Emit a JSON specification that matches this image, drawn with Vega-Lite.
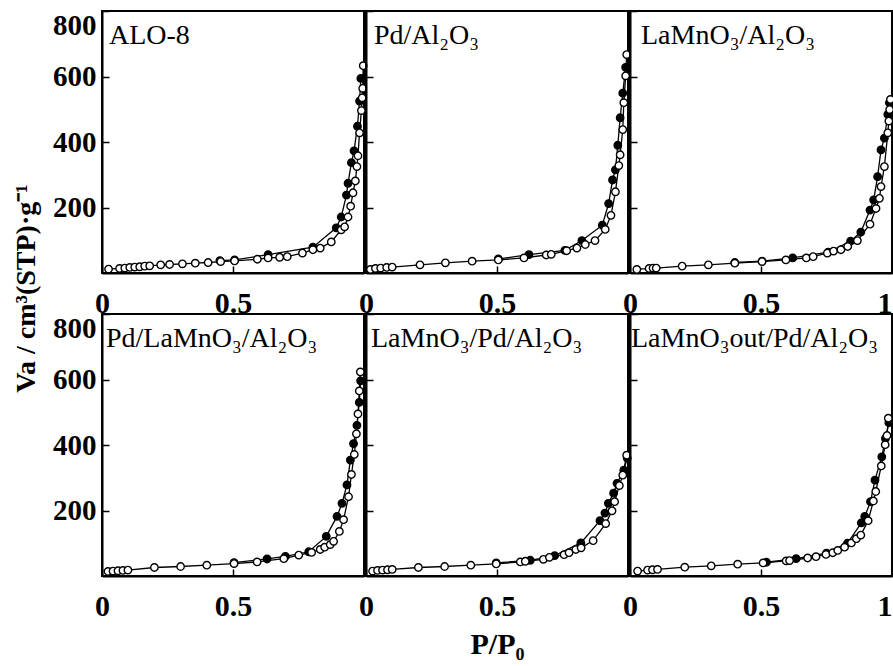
{
  "$schema": "https://vega.github.io/schema/vega-lite/v6.json",
  "background": "white",
  "padding": {"left": 11, "top": 9, "right": 1, "bottom": 0},
  "bounds": "flush",
  "columns": 3,
  "spacing": {"row": 41, "column": 2},
  "config": {
    "font": "Liberation Serif",
    "view": {"stroke": "black", "strokeWidth": 2},
    "axis": {"grid": false, "domainColor": "black", "domainWidth": 2, "tickColor": "black", "tickWidth": 1.5, "tickSize": -7, "labelFont": "Liberation Serif", "labelFontWeight": "bold", "labelColor": "black", "titleFont": "Liberation Serif", "titleFontWeight": "bold", "titleColor": "black", "labelOverlap": false},
    "axisX": {"labelFontSize": 30, "labelPadding": 22, "format": "~g"},
    "axisY": {"labelFontSize": 29, "labelPadding": 13, "format": "d"},
    "title": {"anchor": "start", "frame": "group", "offset": -40, "fontSize": 28, "fontWeight": "normal", "font": "Liberation Serif", "color": "black"}
  },
  "datasets": {
    "iso": [
      {"s":1,"b":"a","p":0.025,"v":12},{"s":1,"b":"a","p":0.067,"v":14},{"s":1,"b":"a","p":0.087,"v":15},{"s":1,"b":"a","p":0.106,"v":17},{"s":1,"b":"a","p":0.125,"v":18},{"s":1,"b":"a","p":0.144,"v":19},{"s":1,"b":"a","p":0.163,"v":21},{"s":1,"b":"a","p":0.182,"v":22},{"s":1,"b":"a","p":0.224,"v":25},{"s":1,"b":"a","p":0.258,"v":26},{"s":1,"b":"a","p":0.307,"v":28},{"s":1,"b":"a","p":0.356,"v":30},{"s":1,"b":"a","p":0.405,"v":32},{"s":1,"b":"a","p":0.453,"v":35},{"s":1,"b":"a","p":0.506,"v":37},{"s":1,"b":"a","p":0.593,"v":42},{"s":1,"b":"a","p":0.634,"v":46},{"s":1,"b":"a","p":0.678,"v":48},{"s":1,"b":"a","p":0.707,"v":50},{"s":1,"b":"a","p":0.765,"v":61},{"s":1,"b":"a","p":0.805,"v":71},{"s":1,"b":"a","p":0.833,"v":76},{"s":1,"b":"a","p":0.875,"v":95},{"s":1,"b":"a","p":0.913,"v":132},{"s":1,"b":"a","p":0.926,"v":141},{"s":1,"b":"a","p":0.939,"v":171},{"s":1,"b":"a","p":0.949,"v":204},{"s":1,"b":"a","p":0.958,"v":245},{"s":1,"b":"a","p":0.967,"v":281},{"s":1,"b":"a","p":0.973,"v":325},{"s":1,"b":"a","p":0.977,"v":358},{"s":1,"b":"a","p":0.983,"v":428},{"s":1,"b":"a","p":0.99,"v":496},{"s":1,"b":"a","p":0.993,"v":535},{"s":1,"b":"a","p":0.995,"v":564},{"s":1,"b":"a","p":0.997,"v":633},
      {"s":1,"b":"d","p":0.45,"v":38},{"s":1,"b":"d","p":0.506,"v":40},{"s":1,"b":"d","p":0.634,"v":56},{"s":1,"b":"d","p":0.805,"v":79},{"s":1,"b":"d","p":0.894,"v":138},{"s":1,"b":"d","p":0.913,"v":171},{"s":1,"b":"d","p":0.933,"v":238},{"s":1,"b":"d","p":0.939,"v":274},{"s":1,"b":"d","p":0.952,"v":337},{"s":1,"b":"d","p":0.962,"v":373},{"s":1,"b":"d","p":0.975,"v":448},{"s":1,"b":"d","p":0.983,"v":525},{"s":1,"b":"d","p":0.988,"v":594},
      {"s":2,"b":"a","p":0.017,"v":11},{"s":2,"b":"a","p":0.036,"v":14},{"s":2,"b":"a","p":0.056,"v":15},{"s":2,"b":"a","p":0.079,"v":17},{"s":2,"b":"a","p":0.1,"v":18},{"s":2,"b":"a","p":0.206,"v":25},{"s":2,"b":"a","p":0.303,"v":31},{"s":2,"b":"a","p":0.405,"v":36},{"s":2,"b":"a","p":0.505,"v":40},{"s":2,"b":"a","p":0.603,"v":46},{"s":2,"b":"a","p":0.688,"v":55},{"s":2,"b":"a","p":0.707,"v":57},{"s":2,"b":"a","p":0.766,"v":68},{"s":2,"b":"a","p":0.805,"v":76},{"s":2,"b":"a","p":0.837,"v":87},{"s":2,"b":"a","p":0.874,"v":99},{"s":2,"b":"a","p":0.913,"v":133},{"s":2,"b":"a","p":0.935,"v":176},{"s":2,"b":"a","p":0.952,"v":248},{"s":2,"b":"a","p":0.965,"v":328},{"s":2,"b":"a","p":0.97,"v":361},{"s":2,"b":"a","p":0.98,"v":438},{"s":2,"b":"a","p":0.984,"v":520},{"s":2,"b":"a","p":0.991,"v":602},{"s":2,"b":"a","p":0.995,"v":667},
      {"s":2,"b":"d","p":0.505,"v":43},{"s":2,"b":"d","p":0.622,"v":56},{"s":2,"b":"d","p":0.759,"v":69},{"s":2,"b":"d","p":0.824,"v":99},{"s":2,"b":"d","p":0.902,"v":146},{"s":2,"b":"d","p":0.926,"v":212},{"s":2,"b":"d","p":0.941,"v":284},{"s":2,"b":"d","p":0.952,"v":315},{"s":2,"b":"d","p":0.961,"v":390},{"s":2,"b":"d","p":0.97,"v":474},{"s":2,"b":"d","p":0.98,"v":549},{"s":2,"b":"d","p":0.991,"v":628},
      {"s":3,"b":"a","p":0.026,"v":11},{"s":3,"b":"a","p":0.073,"v":14},{"s":3,"b":"a","p":0.088,"v":15},{"s":3,"b":"a","p":0.1,"v":15},{"s":3,"b":"a","p":0.199,"v":21},{"s":3,"b":"a","p":0.299,"v":25},{"s":3,"b":"a","p":0.4,"v":30},{"s":3,"b":"a","p":0.504,"v":35},{"s":3,"b":"a","p":0.595,"v":40},{"s":3,"b":"a","p":0.673,"v":46},{"s":3,"b":"a","p":0.699,"v":50},{"s":3,"b":"a","p":0.753,"v":61},{"s":3,"b":"a","p":0.777,"v":67},{"s":3,"b":"a","p":0.805,"v":71},{"s":3,"b":"a","p":0.831,"v":81},{"s":3,"b":"a","p":0.868,"v":99},{"s":3,"b":"a","p":0.916,"v":149},{"s":3,"b":"a","p":0.939,"v":197},{"s":3,"b":"a","p":0.952,"v":228},{"s":3,"b":"a","p":0.958,"v":264},{"s":3,"b":"a","p":0.971,"v":325},{"s":3,"b":"a","p":0.984,"v":428},{"s":3,"b":"a","p":0.988,"v":464},{"s":3,"b":"a","p":0.991,"v":499},{"s":3,"b":"a","p":0.994,"v":530},
      {"s":3,"b":"d","p":0.4,"v":32},{"s":3,"b":"d","p":0.504,"v":36},{"s":3,"b":"d","p":0.621,"v":46},{"s":3,"b":"d","p":0.757,"v":64},{"s":3,"b":"d","p":0.842,"v":97},{"s":3,"b":"d","p":0.881,"v":125},{"s":3,"b":"d","p":0.916,"v":192},{"s":3,"b":"d","p":0.93,"v":223},{"s":3,"b":"d","p":0.945,"v":294},{"s":3,"b":"d","p":0.958,"v":376},{"s":3,"b":"d","p":0.971,"v":412},{"s":3,"b":"d","p":0.984,"v":484},{"s":3,"b":"d","p":0.99,"v":520},
      {"s":4,"b":"a","p":0.023,"v":14},{"s":4,"b":"a","p":0.042,"v":15},{"s":4,"b":"a","p":0.061,"v":16},{"s":4,"b":"a","p":0.08,"v":17},{"s":4,"b":"a","p":0.099,"v":18},{"s":4,"b":"a","p":0.2,"v":26},{"s":4,"b":"a","p":0.3,"v":29},{"s":4,"b":"a","p":0.4,"v":33},{"s":4,"b":"a","p":0.504,"v":38},{"s":4,"b":"a","p":0.592,"v":43},{"s":4,"b":"a","p":0.694,"v":53},{"s":4,"b":"a","p":0.751,"v":64},{"s":4,"b":"a","p":0.8,"v":72},{"s":4,"b":"a","p":0.833,"v":81},{"s":4,"b":"a","p":0.85,"v":88},{"s":4,"b":"a","p":0.871,"v":96},{"s":4,"b":"a","p":0.884,"v":106},{"s":4,"b":"a","p":0.906,"v":136},{"s":4,"b":"a","p":0.922,"v":172},{"s":4,"b":"a","p":0.941,"v":242},{"s":4,"b":"a","p":0.952,"v":310},{"s":4,"b":"a","p":0.963,"v":371},{"s":4,"b":"a","p":0.971,"v":434},{"s":4,"b":"a","p":0.977,"v":495},{"s":4,"b":"a","p":0.982,"v":565},{"s":4,"b":"a","p":0.986,"v":623},
      {"s":4,"b":"d","p":0.504,"v":41},{"s":4,"b":"d","p":0.63,"v":52},{"s":4,"b":"d","p":0.7,"v":60},{"s":4,"b":"d","p":0.789,"v":74},{"s":4,"b":"d","p":0.856,"v":121},{"s":4,"b":"d","p":0.897,"v":182},{"s":4,"b":"d","p":0.916,"v":222},{"s":4,"b":"d","p":0.935,"v":278},{"s":4,"b":"d","p":0.948,"v":354},{"s":4,"b":"d","p":0.96,"v":404},{"s":4,"b":"d","p":0.973,"v":460},{"s":4,"b":"d","p":0.982,"v":530},{"s":4,"b":"d","p":0.987,"v":596},
      {"s":5,"b":"a","p":0.025,"v":15},{"s":5,"b":"a","p":0.044,"v":17},{"s":5,"b":"a","p":0.063,"v":18},{"s":5,"b":"a","p":0.082,"v":19},{"s":5,"b":"a","p":0.1,"v":20},{"s":5,"b":"a","p":0.2,"v":26},{"s":5,"b":"a","p":0.3,"v":29},{"s":5,"b":"a","p":0.4,"v":33},{"s":5,"b":"a","p":0.497,"v":37},{"s":5,"b":"a","p":0.589,"v":43},{"s":5,"b":"a","p":0.608,"v":45},{"s":5,"b":"a","p":0.677,"v":51},{"s":5,"b":"a","p":0.7,"v":57},{"s":5,"b":"a","p":0.756,"v":65},{"s":5,"b":"a","p":0.775,"v":71},{"s":5,"b":"a","p":0.801,"v":81},{"s":5,"b":"a","p":0.821,"v":86},{"s":5,"b":"a","p":0.867,"v":108},{"s":5,"b":"a","p":0.915,"v":160},{"s":5,"b":"a","p":0.939,"v":199},{"s":5,"b":"a","p":0.949,"v":227},{"s":5,"b":"a","p":0.967,"v":276},{"s":5,"b":"a","p":0.98,"v":308},{"s":5,"b":"a","p":0.995,"v":369},
      {"s":5,"b":"d","p":0.497,"v":40},{"s":5,"b":"d","p":0.627,"v":48},{"s":5,"b":"d","p":0.72,"v":62},{"s":5,"b":"d","p":0.82,"v":101},{"s":5,"b":"d","p":0.893,"v":169},{"s":5,"b":"d","p":0.912,"v":192},{"s":5,"b":"d","p":0.925,"v":222},{"s":5,"b":"d","p":0.945,"v":253},{"s":5,"b":"d","p":0.958,"v":283},{"s":5,"b":"d","p":0.984,"v":323},{"s":5,"b":"d","p":0.997,"v":360},
      {"s":6,"b":"a","p":0.029,"v":15},{"s":6,"b":"a","p":0.067,"v":18},{"s":6,"b":"a","p":0.086,"v":19},{"s":6,"b":"a","p":0.105,"v":20},{"s":6,"b":"a","p":0.209,"v":27},{"s":6,"b":"a","p":0.31,"v":31},{"s":6,"b":"a","p":0.411,"v":36},{"s":6,"b":"a","p":0.508,"v":40},{"s":6,"b":"a","p":0.596,"v":46},{"s":6,"b":"a","p":0.609,"v":47},{"s":6,"b":"a","p":0.678,"v":55},{"s":6,"b":"a","p":0.71,"v":59},{"s":6,"b":"a","p":0.748,"v":66},{"s":6,"b":"a","p":0.774,"v":71},{"s":6,"b":"a","p":0.793,"v":78},{"s":6,"b":"a","p":0.819,"v":88},{"s":6,"b":"a","p":0.845,"v":101},{"s":6,"b":"a","p":0.864,"v":114},{"s":6,"b":"a","p":0.881,"v":125},{"s":6,"b":"a","p":0.909,"v":169},{"s":6,"b":"a","p":0.929,"v":229},{"s":6,"b":"a","p":0.938,"v":258},{"s":6,"b":"a","p":0.959,"v":336},{"s":6,"b":"a","p":0.974,"v":401},{"s":6,"b":"a","p":0.981,"v":429},{"s":6,"b":"a","p":0.986,"v":482},
      {"s":6,"b":"d","p":0.521,"v":42},{"s":6,"b":"d","p":0.634,"v":53},{"s":6,"b":"d","p":0.75,"v":70},{"s":6,"b":"d","p":0.83,"v":100},{"s":6,"b":"d","p":0.883,"v":162},{"s":6,"b":"d","p":0.896,"v":182},{"s":6,"b":"d","p":0.918,"v":227},{"s":6,"b":"d","p":0.935,"v":293},{"s":6,"b":"d","p":0.961,"v":364},{"s":6,"b":"d","p":0.975,"v":420},{"s":6,"b":"d","p":0.988,"v":468}
    ]
  },
  "concat": [
    {
      "width": 262, "height": 262,
      "title": {"text": "ALO-8", "dx": 7},
      "data": {"name": "iso"},
      "transform": [{"filter": "datum.s == 1"}],
      "encoding": {
        "x": {"field": "p", "type": "quantitative", "scale": {"domain": [0, 1], "nice": false, "zero": false}, "axis": {"values": [0, 0.5], "title": null, "labelFlush": false}},
        "y": {"field": "v", "type": "quantitative", "scale": {"domain": [0, 800], "nice": false}, "axis": {"values": [200, 400, 600, 800], "labelFlush": true, "title": "Va / cm³(STP)·g⁻¹", "titleFontSize": 28, "titleX": -76, "titleY": 277, "titleAngle": -90, "titleBaseline": "middle", "titleAlign": "center"}}
      },
      "layer": [
        {"mark": {"type": "line", "color": "black", "strokeWidth": 1.3}, "encoding": {"detail": {"field": "b"}}},
        {"transform": [{"filter": "datum.b == 'd'"}], "mark": {"type": "point", "shape": "circle", "filled": true, "fill": "black", "stroke": "black", "strokeWidth": 1.4, "size": 55, "opacity": 1}},
        {"transform": [{"filter": "datum.b == 'a'"}], "mark": {"type": "point", "shape": "circle", "filled": true, "fill": "white", "stroke": "black", "strokeWidth": 1.4, "size": 55, "opacity": 1}}
      ]
    },
    {
      "width": 262, "height": 262,
      "title": {"text": "Pd/Al₂O₃", "dx": 8},
      "data": {"name": "iso"},
      "transform": [{"filter": "datum.s == 2"}],
      "encoding": {
        "x": {"field": "p", "type": "quantitative", "scale": {"domain": [0, 1], "nice": false, "zero": false}, "axis": {"values": [0, 0.5], "title": null, "labelFlush": false}},
        "y": {"field": "v", "type": "quantitative", "scale": {"domain": [0, 800], "nice": false}, "axis": {"values": [200, 400, 600, 800], "labels": false, "title": null}}
      },
      "layer": [
        {"mark": {"type": "line", "color": "black", "strokeWidth": 1.3}, "encoding": {"detail": {"field": "b"}}},
        {"transform": [{"filter": "datum.b == 'd'"}], "mark": {"type": "point", "shape": "circle", "filled": true, "fill": "black", "stroke": "black", "strokeWidth": 1.4, "size": 55, "opacity": 1}},
        {"transform": [{"filter": "datum.b == 'a'"}], "mark": {"type": "point", "shape": "circle", "filled": true, "fill": "white", "stroke": "black", "strokeWidth": 1.4, "size": 55, "opacity": 1}}
      ]
    },
    {
      "width": 262, "height": 262,
      "title": {"text": "LaMnO₃/Al₂O₃", "dx": 11},
      "data": {"name": "iso"},
      "transform": [{"filter": "datum.s == 3"}],
      "encoding": {
        "x": {"field": "p", "type": "quantitative", "scale": {"domain": [0, 1], "nice": false, "zero": false}, "axis": {"values": [0, 0.5, 1], "title": null, "labelFlush": false, "labelAlign": {"condition": {"test": "datum.value == 1", "value": "right"}, "value": "center"}}},
        "y": {"field": "v", "type": "quantitative", "scale": {"domain": [0, 800], "nice": false}, "axis": {"values": [200, 400, 600, 800], "labels": false, "title": null}}
      },
      "layer": [
        {"mark": {"type": "line", "color": "black", "strokeWidth": 1.3}, "encoding": {"detail": {"field": "b"}}},
        {"transform": [{"filter": "datum.b == 'd'"}], "mark": {"type": "point", "shape": "circle", "filled": true, "fill": "black", "stroke": "black", "strokeWidth": 1.4, "size": 55, "opacity": 1}},
        {"transform": [{"filter": "datum.b == 'a'"}], "mark": {"type": "point", "shape": "circle", "filled": true, "fill": "white", "stroke": "black", "strokeWidth": 1.4, "size": 55, "opacity": 1}}
      ]
    },
    {
      "width": 262, "height": 262,
      "title": {"text": "Pd/LaMnO₃/Al₂O₃", "dx": 4},
      "data": {"name": "iso"},
      "transform": [{"filter": "datum.s == 4"}],
      "encoding": {
        "x": {"field": "p", "type": "quantitative", "scale": {"domain": [0, 1], "nice": false, "zero": false}, "axis": {"values": [0, 0.5], "title": null, "labelFlush": false}},
        "y": {"field": "v", "type": "quantitative", "scale": {"domain": [0, 800], "nice": false}, "axis": {"values": [200, 400, 600, 800], "labelFlush": true, "title": null}}
      },
      "layer": [
        {"mark": {"type": "line", "color": "black", "strokeWidth": 1.3}, "encoding": {"detail": {"field": "b"}}},
        {"transform": [{"filter": "datum.b == 'd'"}], "mark": {"type": "point", "shape": "circle", "filled": true, "fill": "black", "stroke": "black", "strokeWidth": 1.4, "size": 55, "opacity": 1}},
        {"transform": [{"filter": "datum.b == 'a'"}], "mark": {"type": "point", "shape": "circle", "filled": true, "fill": "white", "stroke": "black", "strokeWidth": 1.4, "size": 55, "opacity": 1}}
      ]
    },
    {
      "width": 262, "height": 262,
      "title": {"text": "LaMnO₃/Pd/Al₂O₃", "dx": 5},
      "data": {"name": "iso"},
      "transform": [{"filter": "datum.s == 5"}],
      "encoding": {
        "x": {"field": "p", "type": "quantitative", "scale": {"domain": [0, 1], "nice": false, "zero": false}, "axis": {"values": [0, 0.5], "labelFlush": false, "title": "P/P₀", "titleFontSize": 30, "titleY": 53, "titleBaseline": "top"}},
        "y": {"field": "v", "type": "quantitative", "scale": {"domain": [0, 800], "nice": false}, "axis": {"values": [200, 400, 600, 800], "labels": false, "title": null}}
      },
      "layer": [
        {"mark": {"type": "line", "color": "black", "strokeWidth": 1.3}, "encoding": {"detail": {"field": "b"}}},
        {"transform": [{"filter": "datum.b == 'd'"}], "mark": {"type": "point", "shape": "circle", "filled": true, "fill": "black", "stroke": "black", "strokeWidth": 1.4, "size": 55, "opacity": 1}},
        {"transform": [{"filter": "datum.b == 'a'"}], "mark": {"type": "point", "shape": "circle", "filled": true, "fill": "white", "stroke": "black", "strokeWidth": 1.4, "size": 55, "opacity": 1}}
      ]
    },
    {
      "width": 262, "height": 262,
      "title": {"text": "LaMnO₃out/Pd/Al₂O₃", "dx": 1},
      "data": {"name": "iso"},
      "transform": [{"filter": "datum.s == 6"}],
      "encoding": {
        "x": {"field": "p", "type": "quantitative", "scale": {"domain": [0, 1], "nice": false, "zero": false}, "axis": {"values": [0, 0.5, 1], "title": null, "labelFlush": false, "labelAlign": {"condition": {"test": "datum.value == 1", "value": "right"}, "value": "center"}}},
        "y": {"field": "v", "type": "quantitative", "scale": {"domain": [0, 800], "nice": false}, "axis": {"values": [200, 400, 600, 800], "labels": false, "title": null}}
      },
      "layer": [
        {"mark": {"type": "line", "color": "black", "strokeWidth": 1.3}, "encoding": {"detail": {"field": "b"}}},
        {"transform": [{"filter": "datum.b == 'd'"}], "mark": {"type": "point", "shape": "circle", "filled": true, "fill": "black", "stroke": "black", "strokeWidth": 1.4, "size": 55, "opacity": 1}},
        {"transform": [{"filter": "datum.b == 'a'"}], "mark": {"type": "point", "shape": "circle", "filled": true, "fill": "white", "stroke": "black", "strokeWidth": 1.4, "size": 55, "opacity": 1}}
      ]
    }
  ]
}
